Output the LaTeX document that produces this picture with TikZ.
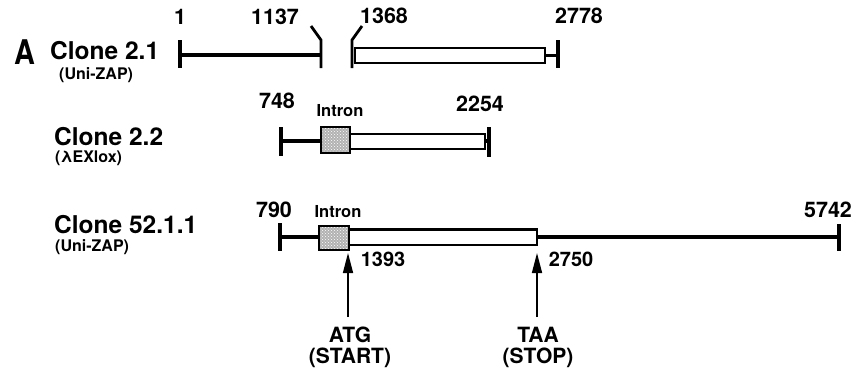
\documentclass[tikz,border=0pt]{standalone}
\usepackage{fontspec}
\setmainfont{TeX Gyre Heros}
\usetikzlibrary{arrows.meta,patterns}
\tikzset{
  lbl/.style={inner sep=0pt, font=\bfseries\fontsize{24.5}{24.5}\selectfont},
  sub/.style={inner sep=0pt, font=\bfseries\fontsize{16}{16}\selectfont},
  num/.style={inner sep=0pt, font=\bfseries\fontsize{21.5}{21.5}\selectfont},
  num2/.style={inner sep=0pt, font=\bfseries\fontsize{20}{20}\selectfont},
  intr/.style={inner sep=0pt, font=\bfseries\fontsize{16.5}{16.5}\selectfont},
  cod/.style={inner sep=0pt, align=center, font=\bfseries\fontsize{21}{21}\selectfont},
  seq/.style={line width=3.4pt},
  tick/.style={line width=3.2pt},
  orf/.style={draw, line width=2.8pt, fill=white},
  intronbox/.style={draw, line width=2.4pt, fill=gray!60},
  arr/.style={line width=1.5pt, -{Triangle[length=20pt,width=10pt]}}
}
\begin{document}
\begin{tikzpicture}[x=1pt,y=-1pt]
\useasboundingbox (0,0) rectangle (858,373);
% labels
\node[inner sep=0pt, xscale=0.85] (A) at (25,52) {\bfseries\fontsize{34}{34}\selectfont A};
\node[lbl,anchor=west] (c21) at (50,51) {Clone 2.1};
\node[sub,anchor=west] (c21s) at (59,75) {(Uni-ZAP)};
\node[lbl,anchor=west] (c22) at (54,137) {Clone 2.2};
\node[sub,anchor=west] (c22s) at (55,158) {(λEXlox)};
\node[lbl,anchor=west] (c52) at (54,225) {Clone 52.1.1};
\node[sub,anchor=west] (c52s) at (55,247) {(Uni-ZAP)};
% numbers
\node[num] (n1) at (180,17) {1};
\node[num] (n1137) at (275,17) {1137};
\node[num] (n1368) at (384,16) {1368};
\node[num] (n2778) at (579,16) {2778};
\node[num] (n748) at (277,101) {748};
\node[num] (n2254) at (480,104) {2254};
\node[intr] (i1) at (340,111) {Intron};
\node[num] (n790) at (274,210) {790};
\node[intr] (i2) at (338,212) {Intron};
\node[num] (n5742) at (828,210) {5742};
\node[num2] (n1393) at (383,259) {1393};
\node[num2] (n2750) at (571,259) {2750};
\node[cod] (atg) at (350,347) {ATG\\(START)};
\node[cod] (taa) at (538,347) {TAA\\(STOP)};
% Clone 2.1
\draw[tick] (180,40) -- (180,68);
\draw[seq] (180,55) -- (321,55);
\draw[line width=2.8pt] (311,26) -- (321,40) -- (321,68);
\draw[line width=2.8pt] (362,26) -- (352,40) -- (352,68);
\draw[orf] (355,48) rectangle (545,63);
\draw[seq] (545,55.5) -- (558,55.5);
\draw[tick] (558,40) -- (558,68);
% Clone 2.2
\draw[tick] (281,127) -- (281,156);
\draw[seq] (281,141) -- (321,141);
\draw[intronbox] (321,127) rectangle (350,153);
\fill[pattern=crosshatch dots, pattern color=white] (322.5,128.5) rectangle (348.5,151.5);
\draw[orf] (350,134) rectangle (485,149);
\draw[seq] (485,141) -- (489,141);
\draw[tick] (489,127) -- (489,157);
% Clone 52.1.1
\draw[tick] (280,223) -- (280,251);
\draw[seq] (280,237) -- (319,237);
\draw[intronbox] (319,226) rectangle (349,250);
\fill[pattern=crosshatch dots, pattern color=white] (320.5,227.5) rectangle (347.5,248.5);
\draw[orf] (349,229.5) rectangle (537,245);
\draw[seq] (537,237) -- (839,237);
\draw[tick] (839,224) -- (839,251);
% arrows
\coordinate (atgtail) at (348,317);
\coordinate (atgtip) at (348,253);
\coordinate (taatail) at (537,317);
\coordinate (taatip) at (537,253);
\draw[arr] (atgtail) -- (atgtip);
\draw[arr] (taatail) -- (taatip);
\end{tikzpicture}
\end{document}
